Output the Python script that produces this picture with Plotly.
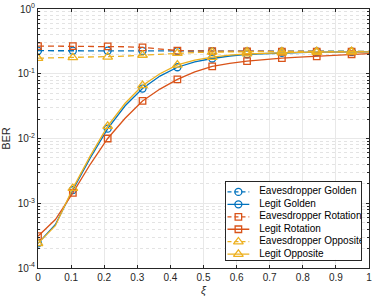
import plotly.graph_objects as go

# ---------------- data ----------------
xi = [0.0, 0.0526, 0.1053, 0.1579, 0.2105, 0.2632, 0.3158, 0.3684, 0.4211, 0.4737,
      0.5263, 0.5789, 0.6316, 0.6842, 0.7368, 0.7895, 0.8421, 0.8947, 0.9474, 1.0]

eve_golden = [0.227, 0.227, 0.227, 0.227, 0.227, 0.226, 0.225, 0.225, 0.224, 0.224,
              0.223, 0.223, 0.222, 0.222, 0.222, 0.222, 0.222, 0.222, 0.222, 0.222]
legit_golden = [2.4e-4, 4.7e-4, 1.6e-3, 5.0e-3, 1.42e-2, 3.2e-2, 5.9e-2, 9.2e-2, 0.126, 0.153,
                0.172, 0.188, 0.200, 0.206, 0.210, 0.213, 0.215, 0.216, 0.217, 0.218]
eve_rotation = [0.268, 0.268, 0.268, 0.267, 0.265, 0.261, 0.255, 0.243, 0.228, 0.225,
                0.224, 0.223, 0.222, 0.221, 0.220, 0.220, 0.219, 0.219, 0.219, 0.219]
legit_rotation = [3.1e-4, 5.6e-4, 1.45e-3, 4.0e-3, 1.0e-2, 2.05e-2, 3.8e-2, 5.8e-2, 8.2e-2, 0.107,
                  0.130, 0.145, 0.157, 0.166, 0.174, 0.180, 0.185, 0.193, 0.200, 0.205]
eve_opposite = [0.174, 0.176, 0.178, 0.180, 0.182, 0.187, 0.194, 0.201, 0.208, 0.213,
                0.216, 0.218, 0.220, 0.221, 0.221, 0.222, 0.222, 0.222, 0.222, 0.222]
legit_opposite = [2.4e-4, 4.5e-4, 1.7e-3, 5.4e-3, 1.55e-2, 3.5e-2, 6.6e-2, 0.100, 0.137, 0.162,
                  0.180, 0.194, 0.203, 0.208, 0.211, 0.214, 0.215, 0.216, 0.217, 0.218]

series_names = ["Eavesdropper Golden", "Legit Golden", "Eavesdropper Rotation",
                "Legit Rotation", "Eavesdropper Opposite", "Legit Opposite"]
series_values = [eve_golden, legit_golden, eve_rotation, legit_rotation, eve_opposite, legit_opposite]

x_tickvals = [0, 0.1, 0.2, 0.3, 0.4, 0.5, 0.6, 0.7, 0.8, 0.9, 1]
x_ticktext = ["0", "0.1", "0.2", "0.3", "0.4", "0.5", "0.6", "0.7", "0.8", "0.9", "1"]
y_tickvals = [1e-4, 1e-3, 1e-2, 1e-1, 1]
y_ticktext = ["10<sup>-4</sup>", "10<sup>-3</sup>", "10<sup>-2</sup>", "10<sup>-1</sup>", "10<sup>0</sup>"]

# ---------------- styles ----------------
BLUE, RED, YEL = "#0072BD", "#D95319", "#EDB120"
colors = [BLUE, BLUE, RED, RED, YEL, YEL]
dashes = ["6px,4px", "solid"] * 3
symbols = ["circle-open", "circle-open", "square-open", "square-open",
           "triangle-up-open", "triangle-up-open"]
msizes = [7, 7, 6.5, 6.5, 8.5, 8.5]
AX = "#262626"

fig = go.Figure()
for name, vals, c, d, s, ms in zip(series_names, series_values, colors, dashes, symbols, msizes):
    fig.add_trace(go.Scatter(x=xi, y=vals, mode="lines", showlegend=False,
                             line=dict(color=c, width=1.3, dash=d), xaxis="x", yaxis="y"))
    fig.add_trace(go.Scatter(x=xi[:-1:2], y=vals[:-1:2], mode="markers", showlegend=False,
                             marker=dict(symbol=s, size=ms, color=c, line=dict(color=c, width=1.3)),
                             xaxis="x", yaxis="y"))

# ---------------- custom legend (inset axes, pixel units) ----------------
W, H = 374, 302
L, R, T, B = 38, 2, 5, 34
pw, ph = W - L - R, H - T - B
box_x0, box_x1, box_y0, box_y1 = 227.7, 364, 180.7, 259.7
bw, bh = box_x1 - box_x0, box_y1 - box_y0
row0, rowstep = 10.0, 12.65
for i, (name, c, d, s, ms) in enumerate(zip(series_names, colors, dashes, symbols, msizes)):
    yy = row0 + rowstep * i
    fig.add_trace(go.Scatter(x=[1.5, 23.5], y=[yy, yy], mode="lines", showlegend=False,
                             line=dict(color=c, width=1.3, dash="4px,3px" if d != "solid" else "solid"),
                             xaxis="x2", yaxis="y2", hoverinfo="skip"))
    fig.add_trace(go.Scatter(x=[12.5], y=[yy], mode="markers", showlegend=False,
                             marker=dict(symbol=s, size=ms, color=c, line=dict(color=c, width=1.3)),
                             xaxis="x2", yaxis="y2", hoverinfo="skip"))
    fig.add_trace(go.Scatter(x=[33.5], y=[yy], mode="text", text=[name], textposition="middle right",
                             showlegend=False, textfont=dict(size=10, color="#000000"),
                             xaxis="x2", yaxis="y2", hoverinfo="skip"))

fig.update_layout(
    width=W, height=H,
    margin=dict(l=L, r=R, t=T, b=B),
    paper_bgcolor="white", plot_bgcolor="white",
    font=dict(family="Liberation Sans, Arial, sans-serif", size=10, color=AX),
    xaxis=dict(domain=[0, 1], range=[0, 1], tickvals=x_tickvals, ticktext=x_ticktext,
               showline=True, mirror="ticks", linecolor=AX, linewidth=1,
               ticks="inside", ticklen=3, tickcolor=AX, ticklabeloverflow="allow",
               showgrid=True, gridcolor="#e8e8e8", gridwidth=1, zeroline=False,
               tickfont=dict(size=10, color=AX),
               title=dict(text="<i>ξ</i>", font=dict(size=11, color=AX), standoff=4)),
    yaxis=dict(domain=[0, 1], type="log", range=[-4, 0], tickvals=y_tickvals, ticktext=y_ticktext,
               showline=True, mirror="ticks", linecolor=AX, linewidth=1,
               ticks="inside", ticklen=3, tickcolor=AX, ticklabeloverflow="allow",
               showgrid=True, gridcolor="#e8e8e8", gridwidth=1, zeroline=False,
               tickfont=dict(size=10, color=AX),
               minor=dict(dtick="D1", showgrid=True, gridcolor="#e3e3e3", griddash="dot",
                          gridwidth=1, ticks="inside", ticklen=2, tickcolor=AX),
               title=dict(text="BER", font=dict(size=11, color=AX), standoff=4)),
    xaxis2=dict(domain=[(box_x0 - L) / pw, (box_x1 - L) / pw], range=[0, bw], anchor="y2",
                showgrid=False, zeroline=False, showticklabels=False, ticks="",
                showline=True, mirror=True, linecolor=AX, linewidth=1, fixedrange=True),
    yaxis2=dict(domain=[(H - B - box_y1) / ph, (H - B - box_y0) / ph], range=[bh, 0], anchor="x2",
                showgrid=False, zeroline=False, showticklabels=False, ticks="",
                showline=True, mirror=True, linecolor=AX, linewidth=1, fixedrange=True),
    showlegend=False,
)

fig.write_html("out.html", config={"displayModeBar": False},
               post_script="document.body.style.margin='0';")
